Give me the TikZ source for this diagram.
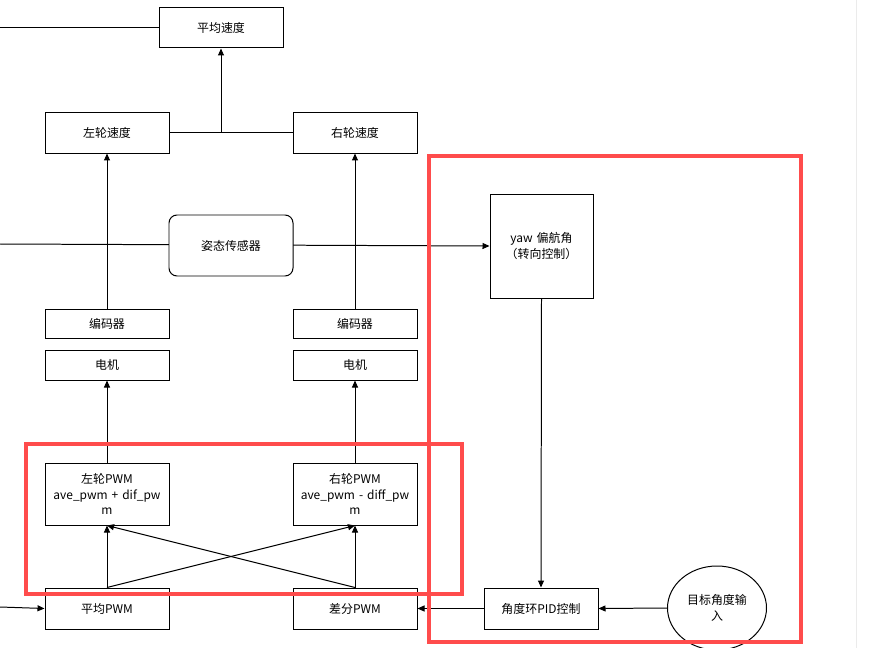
\documentclass[tikz,border=0pt]{standalone}
\usepackage{fontspec}
\setmainfont{Noto Sans CJK SC}
\usetikzlibrary{arrows.meta,shapes.geometric}
\newcommand\Bx[6]{\pgfmathsetmacro\bw{#4-#2}\pgfmathsetmacro\bh{#5-#3}\pgfmathsetmacro\tw{#4-#2-6}\pgfmathsetmacro\cx{(#2+#4)/2}\pgfmathsetmacro\cy{(#3+#5)/2}%
\node[bx,minimum width=\bw bp,minimum height=\bh bp,text width=\tw bp] (#1) at (\cx,\cy) {#6};}
\begin{document}
\begin{tikzpicture}[x=1bp,y=-1bp,
 bx/.style={draw,line width=1pt,align=center,inner sep=1pt,font=\fontsize{12}{16}\selectfont},
 ar/.style={-{Triangle[length=7bp,width=6bp]},line width=1pt},
 ln/.style={line width=1pt},
 red/.style={draw=red!70!white,line width=4.5pt}]
\useasboundingbox (0,0) rectangle (873,648);
\fill[white] (0,0) rectangle (873,648);
\draw[black!8] (856,0) -- (856,648);
\coordinate (e1) at (0,28); \coordinate (e2) at (0,244); \coordinate (e3) at (0,607);
\Bx{avg}{159}{8}{283}{48}{平均速度}
\Bx{ls}{45}{112}{169}{153}{左轮速度}
\Bx{rs}{293}{112}{417}{153}{右轮速度}
\Bx{yaw}{490}{194}{593}{298}{yaw 偏航角\\（转向控制）}
\Bx{le}{45}{309}{169}{338}{编码器}
\Bx{re}{293}{309}{417}{338}{编码器}
\Bx{lm}{45}{350}{169}{380}{电机}
\Bx{rm}{293}{350}{417}{380}{电机}
\Bx{lp}{45}{463}{169}{525}{左轮PWM\\ave\_pwm + dif\_pw\\m}
\Bx{rp}{293}{463}{417}{525}{右轮PWM\\ave\_pwm - diff\_pw\\m}
\Bx{ap}{45}{588}{169}{629}{平均PWM}
\Bx{dp}{293}{588}{417}{629}{差分PWM}
\Bx{pid}{484}{588}{598}{629}{角度环PID控制}
\draw[ar] (e2) -- (yaw.west);
\node[bx,fill=white,rounded corners=8bp,minimum width=124bp,minimum height=61bp] (sen) at (231,245.5) {姿态传感器};
\node[bx,ellipse,inner sep=0pt,minimum width=78bp,minimum height=84bp,text width=70bp] (tgt) at (717,608) {目标角度输\\入};
\draw[ln] (e1) -- (avg.west);
\draw[ln] (ls.east) -- (rs.west);
\draw[ar] (221,132.5) -- (avg.south);
\draw[ar] (le.north) -- (ls.south);
\draw[ar] (re.north) -- (rs.south);
\draw[ar] (lp.north) -- (lm.south);
\draw[ar] (rp.north) -- (rm.south);
\draw[ar] (ap.north) -- (lp.south);
\draw[ar] (ap.north) -- (rp.south);
\draw[ar] (dp.north) -- (lp.south);
\draw[ar] (dp.north) -- (rp.south);
\draw[ar] (e3) -- (ap.west);
\draw[ar] (yaw.south) -- (pid.north);
\draw[ar] (pid.west) -- (dp.east);
\draw[ar] (tgt.west) -- (pid.east);
\draw[red] (26,444) rectangle (462,594);
\draw[red] (429,156) rectangle (801,642);
\end{tikzpicture}
\end{document}
